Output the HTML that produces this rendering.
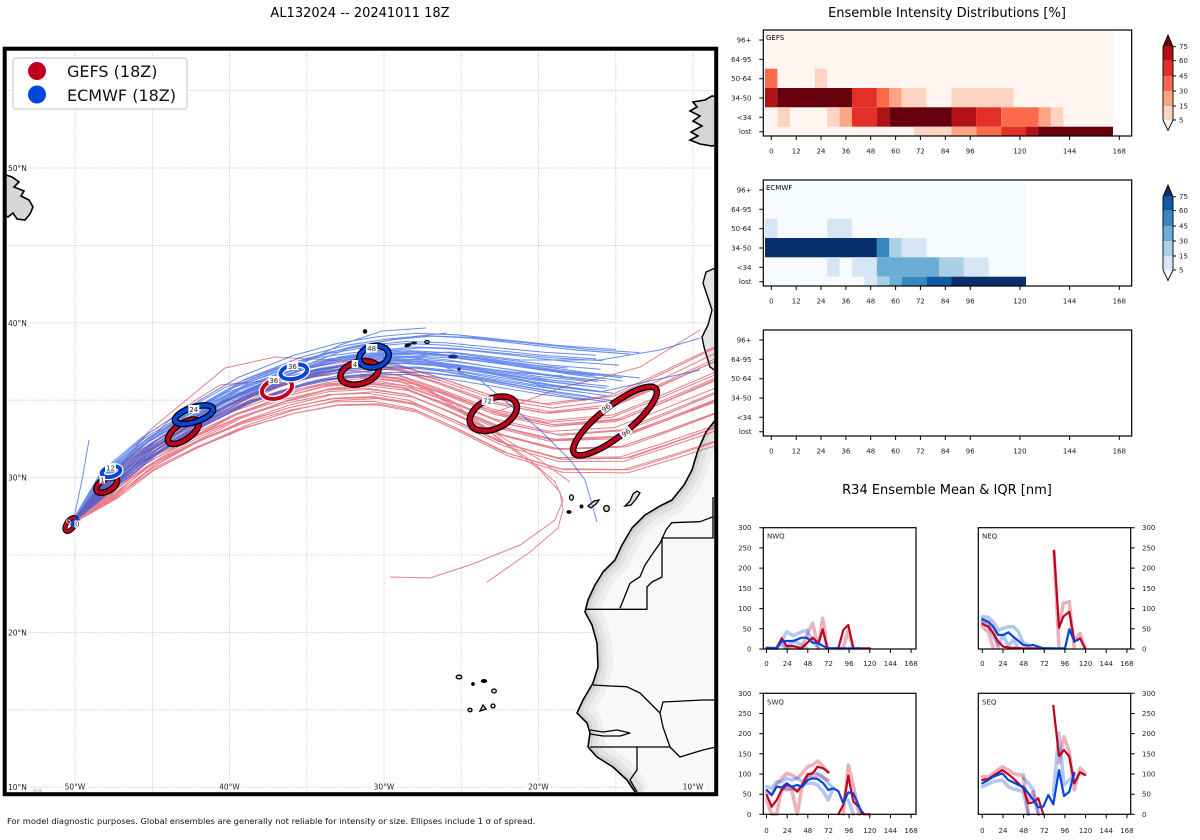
<!DOCTYPE html>
<html><head><meta charset="utf-8"><style>html,body{margin:0;padding:0;background:#fff}svg{display:block}</style></head>
<body>
<svg width="1200" height="840" viewBox="0 0 1200 840" xmlns="http://www.w3.org/2000/svg" xmlns:xlink="http://www.w3.org/1999/xlink" font-family="'DejaVu Sans','Liberation Sans',sans-serif">
<defs>
<clipPath id="mapclip"><rect x="6.7" y="50.7" width="707.5" height="741.5"/></clipPath>
<clipPath id="afclip"><polygon points="717,418 706,432 698,450 692,470 684,485 672,500 660,506 645,515 632,528 622,545 615,560 603,572 595,585 588,600 585,612 592,625 597,643 598,667 593,683 583,700 577,713 587,723 590,733 588,747 597,757 613,767 627,780 637,795 720,798 720,418"/></clipPath>
<path id="pr" d="M106,487 L140,458 183,432 230,408 277,390 320,378 360,374 400,378 440,392 493,413 550,425 615,420 660,402 717,378 790,348" fill="none" stroke="#d11a2e" stroke-width="1"/>
<path id="pb" d="M108,476 L150,442 194,415 240,390 293,371 335,361 374,356 410,354 450,357 500,364 550,371 600,376" fill="none" stroke="#1b4fe2" stroke-width="1"/>
</defs>
<rect width="1200" height="840" fill="#fff"/>

<!-- titles -->
<text x="360" y="17" font-size="13" text-anchor="middle">AL132024 -- 20241011 18Z</text>
<text x="947" y="17" font-size="13" text-anchor="middle">Ensemble Intensity Distributions [%]</text>
<text x="947" y="494" font-size="13" text-anchor="middle">R34 Ensemble Mean &amp; IQR [nm]</text>

<!-- MAP -->
<g clip-path="url(#mapclip)">
<g stroke="#c4c4c4" stroke-width="0.8" stroke-dasharray="1.2 1.2">
<line x1="75" y1="50" x2="75" y2="793"/><line x1="152.3" y1="50" x2="152.3" y2="793"/><line x1="229.5" y1="50" x2="229.5" y2="793"/><line x1="306.8" y1="50" x2="306.8" y2="793"/><line x1="384" y1="50" x2="384" y2="793"/><line x1="461.2" y1="50" x2="461.2" y2="793"/><line x1="538.5" y1="50" x2="538.5" y2="793"/><line x1="615.8" y1="50" x2="615.8" y2="793"/><line x1="693" y1="50" x2="693" y2="793"/>
<line x1="6" y1="90.6" x2="715" y2="90.6"/><line x1="6" y1="168" x2="715" y2="168"/><line x1="6" y1="245.4" x2="715" y2="245.4"/><line x1="6" y1="322.8" x2="715" y2="322.8"/><line x1="6" y1="400.2" x2="715" y2="400.2"/><line x1="6" y1="477.6" x2="715" y2="477.6"/><line x1="6" y1="555" x2="715" y2="555"/><line x1="6" y1="632.4" x2="715" y2="632.4"/><line x1="6" y1="709.8" x2="715" y2="709.8"/><line x1="6" y1="787.2" x2="715" y2="787.2"/>
</g>

<!-- Africa land -->
<polygon points="717,418 706,432 698,450 692,470 684,485 672,500 660,506 645,515 632,528 622,545 615,560 603,572 595,585 588,600 585,612 592,625 597,643 598,667 593,683 583,700 577,713 587,723 590,733 588,747 597,757 613,767 627,780 637,795 720,798 720,418" fill="#f8f8f8"/>
<g clip-path="url(#afclip)" fill="none" stroke-linejoin="round">
<polyline points="717,418 706,432 698,450 692,470 684,485 672,500 660,506 645,515 632,528 622,545 615,560 603,572 595,585 588,600 585,612 592,625 597,643 598,667 593,683 583,700 577,713 587,723 590,733 588,747 597,757 613,767 627,780 637,795" stroke="#eeeeee" stroke-width="30"/>
<polyline points="717,418 706,432 698,450 692,470 684,485 672,500 660,506 645,515 632,528 622,545 615,560 603,572 595,585 588,600 585,612 592,625 597,643 598,667 593,683 583,700 577,713 587,723 590,733 588,747 597,757 613,767 627,780 637,795" stroke="#e2e2e2" stroke-width="18"/>
<polyline points="717,418 706,432 698,450 692,470 684,485 672,500 660,506 645,515 632,528 622,545 615,560 603,572 595,585 588,600 585,612 592,625 597,643 598,667 593,683 583,700 577,713 587,723 590,733 588,747 597,757 613,767 627,780 637,795" stroke="#d2d2d2" stroke-width="8"/>
</g>
<polyline points="717,418 706,432 698,450 692,470 684,485 672,500 660,506 645,515 632,528 622,545 615,560 603,572 595,585 588,600 585,612 592,625 597,643 598,667 593,683 583,700 577,713 587,723 590,733 588,747 597,757 613,767 627,780 637,795" fill="none" stroke="#000" stroke-width="1.6" stroke-linejoin="round"/>
<g fill="none" stroke="#000" stroke-width="1.3" stroke-linejoin="round">
<polyline points="585,609.3 647,609.3 647,587 652,582 662,577 662,538 713,538 713,497"/>
<polyline points="620,608.3 623.3,600 630,583.3 640,576.7 645,565 651.7,555 660,543.3 666,530 671.7,522.7 700,521.7 713.3,516.7"/>
<polyline points="593,685 610,686 626.7,686.7 640,693 650,703 660,713 663,702 703,700 716,700"/>
<polyline points="660,713 663,727 670,747 680,757 693,753 703,750 716,747"/>
<polyline points="590,747 637,747 670,747"/>
<polyline points="590,730 603,732 617,730 630,733 620,736 603,736 590,734"/>
<polyline points="637,747 637,770 630,780 637,792"/>
</g>

<!-- Iberia -->
<polygon points="720,266 706,272 703,283 707,295 712,310 708,325 702,337 704,347 710,367 720,374" fill="#e4e4e4" stroke="#000" stroke-width="1.4"/>
<!-- UK/Ireland -->
<polygon points="720,97 712,96 705,100 693,102 697,107 690,111 700,116 693,121 702,126 691,132 698,136 690,140 700,144 712,146 720,144" fill="#d6d6d6" stroke="#000" stroke-width="1.6"/>
<!-- Newfoundland -->
<polygon points="3,174 12,177 19,182 14,187 24,191 21,196 29,200 33,207 30,214 25,220 17,219 13,213 8,217 3,214" fill="#d6d6d6" stroke="#000" stroke-width="1.6"/>

<!-- islands -->
<g fill="#ddd" stroke="#000" stroke-width="1.3">
<circle cx="365" cy="331.5" r="1.6" fill="#000"/>
<ellipse cx="408" cy="345" rx="3" ry="1.2" transform="rotate(-20 408 345)" fill="#000"/>
<ellipse cx="414" cy="343" rx="2.2" ry="1" fill="#000"/>
<ellipse cx="427" cy="342" rx="2.3" ry="1.5"/>
<ellipse cx="453" cy="356.5" rx="4" ry="1.4" fill="#000"/>
<circle cx="459" cy="369" r="1" fill="#000"/>
<ellipse cx="571.5" cy="497.5" rx="2" ry="2.6"/>
<ellipse cx="569" cy="512" rx="2" ry="1.2" fill="#000"/>
<circle cx="581.5" cy="506.5" r="1.3" fill="#000"/>
<path d="M588,506 L594,501 L599,500 L596,504 L591,508 Z"/>
<ellipse cx="606.5" cy="508.5" rx="2.8" ry="3"/>
<path d="M625,506 L630,501 L633,494 L637,491 L640,493 L636,499 L631,505 Z"/>
<ellipse cx="459" cy="677" rx="2.8" ry="1.8"/>
<circle cx="473" cy="684" r="1.2" fill="#000"/>
<ellipse cx="484" cy="681" rx="2.5" ry="1.4" fill="#000"/>
<ellipse cx="494" cy="691" rx="2.3" ry="2"/>
<ellipse cx="470" cy="710" rx="2" ry="1.7"/>
<path d="M480,711 L483,705 L486,709 Z"/>
<ellipse cx="493" cy="706" rx="2" ry="2"/>
</g>

<!-- GEFS ensemble tracks -->
<g opacity="0.55">
<path d="M70,525L101.6,482.9M70,525L102.4,483.6M70,525L103.1,484.2M70,525L103.8,484.9M70,525L104.5,485.6M70,525L105.3,486.3M70,525L106,487M70,525L106.7,487.7M70,525L107.5,488.4M70,525L108.2,489.1M70,525L108.9,489.8M70,525L109.7,490.5M70,525L110.4,491.1M70,525L111.1,491.8M70,525L111.8,492.5M70,525L112.6,493.2M70,525L113.3,493.9M70,525L114,494.6M70,525L114.8,495.3M70,525L115.5,496M70,525L116.2,496.7M70,525L117,497.4M70,525L117.7,498" fill="none" stroke="#d11a2e" stroke-width="1"/>
<use xlink:href="#pr" href="#pr" transform="translate(-4.38 -4.14) rotate(-1 106 487)"/>
<use xlink:href="#pr" href="#pr" transform="translate(-2.92 -2.76) rotate(0 106 487)"/>
<use xlink:href="#pr" href="#pr" transform="translate(-2.19 -2.07) rotate(-2.5 106 487)"/>
<use xlink:href="#pr" href="#pr" transform="translate(-1.46 -1.38) rotate(1 106 487)"/>
<use xlink:href="#pr" href="#pr" transform="translate(-0.73 -0.69) rotate(2 106 487)"/>
<use xlink:href="#pr" href="#pr" transform="rotate(-1.5 106 487)"/>
<use xlink:href="#pr" href="#pr" transform="translate(0.73 0.69) rotate(3 106 487)"/>
<use xlink:href="#pr" href="#pr" transform="translate(1.46 1.38)"/>
<use xlink:href="#pr" href="#pr" transform="translate(1.46 1.38) rotate(4 106 487)"/>
<use xlink:href="#pr" href="#pr" transform="translate(2.19 2.07) rotate(-2 106 487)"/>
<use xlink:href="#pr" href="#pr" transform="translate(2.92 2.76) rotate(1.5 106 487)"/>
<use xlink:href="#pr" href="#pr" transform="translate(3.65 3.45) rotate(-0.5 106 487)"/>
<use xlink:href="#pr" href="#pr" transform="translate(4.38 4.14) rotate(2.5 106 487)"/>
<use xlink:href="#pr" href="#pr" transform="translate(5.11 4.83) rotate(5 106 487)"/>
<use xlink:href="#pr" href="#pr" transform="translate(5.84 5.52) rotate(0.5 106 487)"/>
<use xlink:href="#pr" href="#pr" transform="translate(6.57 6.21) rotate(-3 106 487)"/>
<use xlink:href="#pr" href="#pr" transform="translate(7.3 6.9) rotate(3.5 106 487)"/>
<use xlink:href="#pr" href="#pr" transform="translate(8.03 7.59) rotate(1 106 487)"/>
<use xlink:href="#pr" href="#pr" transform="translate(8.76 8.28) rotate(-1 106 487)"/>
<use xlink:href="#pr" href="#pr" transform="translate(9.49 8.97) rotate(2 106 487)"/>
<use xlink:href="#pr" href="#pr" transform="translate(10.22 9.66) rotate(4.5 106 487)"/>
<use xlink:href="#pr" href="#pr" transform="translate(10.95 10.35)"/>
<use xlink:href="#pr" href="#pr" transform="translate(11.68 11.04) rotate(3 106 487)"/>
<use xlink:href="#pr" href="#pr" transform="translate(-3.65 -3.45) rotate(2.5 106 487)"/>
<use xlink:href="#pr" href="#pr" transform="translate(2.92 2.76) rotate(-3 106 487)"/>
<use xlink:href="#pr" href="#pr" transform="translate(5.84 5.52) rotate(4 106 487)"/>
<use xlink:href="#pr" href="#pr" transform="translate(8.76 8.28) rotate(5 106 487)"/>
<use xlink:href="#pr" href="#pr" transform="translate(-0.73 -0.69) rotate(-0.5 106 487)"/>
<g fill="none" stroke="#d11a2e" stroke-width="1">
<polyline points="70,525 100,490 150,430 225,368 275,357 330,360 380,365 440,380"/>
<polyline points="70,525 110,478 180,410 220,385 275,380 330,375"/>
<polyline points="360,374 400,378 450,400 500,440 540,470 560,492 563,510 558,528 530,552 487,582"/>
<polyline points="360,376 420,385 480,425 530,460 555,482 563,500 555,520 520,545 470,565 430,578 390,577"/>
<polyline points="360,378 430,390 490,430 540,460 570,482"/>
<polyline points="493,413 563,387 600,378 640,367 700,330"/>
</g>
</g>

<!-- ECMWF ensemble tracks -->
<g opacity="0.65">
<path d="M70,525L101.7,471.1M70,525L102.5,471.7M70,525L103.3,472.3M70,525L104,472.9M70,525L104.8,473.6M70,525L105.6,474.2M70,525L106.4,474.8M70,525L107.2,475.4M70,525L108,476M70,525L108.8,476.6M70,525L109.6,477.2M70,525L110.4,477.8M70,525L111.2,478.4M70,525L112,479.1M70,525L112.7,479.7M70,525L113.5,480.3M70,525L114.3,480.9M70,525L115.1,481.5M70,525L115.9,482.1M70,525L116.7,482.7M70,525L117.5,483.3M70,525L118.3,483.9M70,525L119.1,484.5" fill="none" stroke="#1b4fe2" stroke-width="1"/>
<use xlink:href="#pb" href="#pb" transform="translate(-6.32 -4.88) rotate(-1 108 476) translate(108 476) scale(0.95) translate(-108 -476)"/>
<use xlink:href="#pb" href="#pb" transform="translate(-5.53 -4.27) rotate(0.5 108 476)"/>
<use xlink:href="#pb" href="#pb" transform="translate(-4.74 -3.66) rotate(-2 108 476) translate(108 476) scale(1.05) translate(-108 -476)"/>
<use xlink:href="#pb" href="#pb" transform="translate(-3.95 -3.05) rotate(1 108 476)"/>
<use xlink:href="#pb" href="#pb" transform="translate(-3.16 -2.44) rotate(-0.5 108 476) translate(108 476) scale(0.93) translate(-108 -476)"/>
<use xlink:href="#pb" href="#pb" transform="translate(-2.37 -1.83) rotate(2 108 476)"/>
<use xlink:href="#pb" href="#pb" transform="translate(-1.58 -1.22) rotate(-1.5 108 476) translate(108 476) scale(1.07) translate(-108 -476)"/>
<use xlink:href="#pb" href="#pb" transform="translate(-0.79 -0.61)"/>
<use xlink:href="#pb" href="#pb" transform="rotate(1.5 108 476) translate(108 476) scale(0.96) translate(-108 -476)"/>
<use xlink:href="#pb" href="#pb" transform="translate(0.79 0.61) rotate(-2.5 108 476)"/>
<use xlink:href="#pb" href="#pb" transform="translate(1.58 1.22) rotate(0.5 108 476) translate(108 476) scale(1.04) translate(-108 -476)"/>
<use xlink:href="#pb" href="#pb" transform="translate(2.37 1.83) rotate(-1 108 476)"/>
<use xlink:href="#pb" href="#pb" transform="translate(3.16 2.44) translate(108 476) scale(0.97) translate(-108 -476)"/>
<use xlink:href="#pb" href="#pb" transform="translate(3.16 2.44) rotate(2 108 476)"/>
<use xlink:href="#pb" href="#pb" transform="translate(3.95 3.05) rotate(-2 108 476) translate(108 476) scale(1.08) translate(-108 -476)"/>
<use xlink:href="#pb" href="#pb" transform="translate(4.74 3.66) rotate(1 108 476)"/>
<use xlink:href="#pb" href="#pb" transform="translate(5.53 4.27) rotate(-0.5 108 476) translate(108 476) scale(0.94) translate(-108 -476)"/>
<use xlink:href="#pb" href="#pb" transform="translate(6.32 4.88) rotate(2.5 108 476)"/>
<use xlink:href="#pb" href="#pb" transform="translate(7.11 5.49) rotate(-1.5 108 476) translate(108 476) scale(1.03) translate(-108 -476)"/>
<use xlink:href="#pb" href="#pb" transform="translate(7.9 6.1) rotate(0.5 108 476)"/>
<use xlink:href="#pb" href="#pb" transform="translate(8.69 6.71) rotate(1.5 108 476) translate(108 476) scale(0.95) translate(-108 -476)"/>
<use xlink:href="#pb" href="#pb" transform="translate(9.48 7.32) rotate(-1 108 476)"/>
<use xlink:href="#pb" href="#pb" transform="translate(10.27 7.93) translate(108 476) scale(1.06) translate(-108 -476)"/>
<use xlink:href="#pb" href="#pb" transform="translate(11.06 8.54) rotate(1 108 476)"/>
<use xlink:href="#pb" href="#pb" transform="translate(-3.16 -2.44) rotate(2.5 108 476) translate(108 476) scale(0.98) translate(-108 -476)"/>
<use xlink:href="#pb" href="#pb" transform="rotate(-2 108 476)"/>
<use xlink:href="#pb" href="#pb" transform="translate(4.74 3.66) rotate(-1.5 108 476) translate(108 476) scale(0.92) translate(-108 -476)"/>
<use xlink:href="#pb" href="#pb" transform="translate(7.9 6.1) rotate(-2.5 108 476)"/>
<use xlink:href="#pb" href="#pb" transform="translate(-4.74 -3.66) rotate(1.5 108 476) translate(108 476) scale(1.05) translate(-108 -476)"/>
<use xlink:href="#pb" href="#pb" transform="translate(6.32 4.88)"/>
<use xlink:href="#pb" href="#pb" transform="translate(-1.58 -1.22) rotate(1 108 476) translate(108 476) scale(0.97) translate(-108 -476)"/>
<use xlink:href="#pb" href="#pb" transform="translate(9.48 7.32) rotate(2 108 476)"/>
<g fill="none" stroke="#1b4fe2" stroke-width="1">
<polyline points="74,518 82,480 89,440"/>
<polyline points="374,356 420,358 480,380 540,430 570,460 585,480 597,522"/>
<polyline points="293,368 340,345 382,331 426,328"/>
<polyline points="293,370 350,348 400,338 447,333"/>
<polyline points="380,356 450,352 520,360 600,360 660,350 700,338"/>
<polyline points="380,358 460,365 540,385 600,392 700,370"/>
</g>
</g>

<!-- ellipses -->
<g fill="none">
<ellipse cx="70.5" cy="524.5" rx="8" ry="4" transform="rotate(-55 70.5 524.5)" stroke="#000" stroke-width="5"/>
<ellipse cx="70.5" cy="524.5" rx="8" ry="4" transform="rotate(-55 70.5 524.5)" stroke="#c1001e" stroke-width="3"/>
<ellipse cx="75.5" cy="522.5" rx="4" ry="2.5" transform="rotate(-40 75.5 522.5)" stroke="#0045dc" stroke-width="2.5"/>

<ellipse cx="106.7" cy="485" rx="11.5" ry="6" transform="rotate(-30 106.7 485)" stroke="#000" stroke-width="6.5"/>
<ellipse cx="106.7" cy="485" rx="11.5" ry="6" transform="rotate(-30 106.7 485)" stroke="#c1001e" stroke-width="4"/>
<ellipse cx="111" cy="471.7" rx="9.5" ry="5" transform="rotate(-15 111 471.7)" stroke="#fff" stroke-width="6.5"/>
<ellipse cx="111" cy="471.7" rx="9.5" ry="5" transform="rotate(-15 111 471.7)" stroke="#0045dc" stroke-width="4"/>

<ellipse cx="183.3" cy="431.7" rx="18" ry="8" transform="rotate(-35 183.3 431.7)" stroke="#000" stroke-width="6.5"/>
<ellipse cx="183.3" cy="431.7" rx="18" ry="8" transform="rotate(-35 183.3 431.7)" stroke="#c1001e" stroke-width="4"/>
<ellipse cx="194" cy="414.7" rx="20" ry="7.3" transform="rotate(-18 194 414.7)" stroke="#000" stroke-width="6.5"/>
<ellipse cx="194" cy="414.7" rx="20" ry="7.3" transform="rotate(-18 194 414.7)" stroke="#0045dc" stroke-width="4"/>

<ellipse cx="277" cy="388.7" rx="15.5" ry="9.5" transform="rotate(-18 277 388.7)" stroke="#fff" stroke-width="6.5"/>
<ellipse cx="277" cy="388.7" rx="15.5" ry="9.5" transform="rotate(-18 277 388.7)" stroke="#c1001e" stroke-width="4"/>
<ellipse cx="293.8" cy="371.8" rx="13.5" ry="7" transform="rotate(-12 293.8 371.8)" stroke="#fff" stroke-width="6.5"/>
<ellipse cx="293.8" cy="371.8" rx="13.5" ry="7" transform="rotate(-12 293.8 371.8)" stroke="#0045dc" stroke-width="4"/>

<ellipse cx="359.5" cy="372.8" rx="19.5" ry="11" transform="rotate(-15 359.5 372.8)" stroke="#000" stroke-width="6.5"/>
<ellipse cx="359.5" cy="372.8" rx="19.5" ry="11" transform="rotate(-15 359.5 372.8)" stroke="#c1001e" stroke-width="4"/>
<ellipse cx="374" cy="356.7" rx="15" ry="10.5" transform="rotate(-15 374 356.7)" stroke="#000" stroke-width="6.5"/>
<ellipse cx="374" cy="356.7" rx="15" ry="10.5" transform="rotate(-15 374 356.7)" stroke="#0045dc" stroke-width="4"/>

<ellipse cx="493.3" cy="413.7" rx="25" ry="15" transform="rotate(-25 493.3 413.7)" stroke="#000" stroke-width="6.5"/>
<ellipse cx="493.3" cy="413.7" rx="25" ry="15" transform="rotate(-25 493.3 413.7)" stroke="#c1001e" stroke-width="4"/>

<ellipse cx="615" cy="421" rx="52" ry="15" transform="rotate(-38.4 615 421)" stroke="#000" stroke-width="6.5"/>
<ellipse cx="615" cy="421" rx="52" ry="15" transform="rotate(-38.4 615 421)" stroke="#c1001e" stroke-width="4"/>
</g>
<!-- ellipse labels -->
<g font-size="7" text-anchor="middle" fill="#222">
<rect x="74.5" y="520.5" width="5.5" height="7" fill="#fff"/><text x="77.3" y="526.5">0</text>
<text x="69" y="524" transform="rotate(-55 69 522)" fill="#fff">0</text>
<rect x="105" y="464" width="11" height="7.5" fill="#fff"/><text x="110.5" y="470.5">12</text>
<rect x="99.5" y="476" width="5.5" height="7.5" fill="#fff"/><text x="102.3" y="482.5">1</text>
<rect x="188.3" y="405" width="11" height="8" fill="#fff"/><text x="193.8" y="411.8">24</text>
<rect x="268.3" y="376" width="11" height="8" fill="#fff"/><text x="273.8" y="382.8">36</text>
<rect x="286.7" y="362" width="11.5" height="8" fill="#fff"/><text x="292.4" y="368.8">36</text>
<rect x="351.7" y="360" width="6.5" height="8" fill="#fff"/><text x="355" y="366.8">4</text>
<rect x="366" y="344" width="11.3" height="8.5" fill="#fff"/><text x="371.6" y="351">48</text>
<rect x="481.7" y="396.5" width="11.6" height="8.5" fill="#fff"/><text x="487.5" y="403.5">72</text>
<g transform="rotate(-38 605.8 407.5)"><rect x="600" y="403.5" width="11.6" height="8" fill="#fff"/><text x="605.8" y="410.3">96</text></g>
<g transform="rotate(-38 625.8 432.5)"><rect x="620" y="428.5" width="11.6" height="8" fill="#fff"/><text x="625.8" y="435.3">96</text></g>
</g>

<!-- axis labels -->
<g font-size="7.5" fill="#222">
<rect x="7" y="164" width="23" height="8" fill="#fff"/><text x="8" y="171">50°N</text>
<rect x="7" y="319" width="23" height="8" fill="#fff"/><text x="8" y="326">40°N</text>
<rect x="7" y="473.5" width="23" height="8" fill="#fff"/><text x="8" y="480.5">30°N</text>
<rect x="7" y="628.5" width="23" height="8" fill="#fff"/><text x="8" y="635.5">20°N</text>
<rect x="7" y="783" width="23" height="8" fill="#fff"/><text x="8" y="790">10°N</text>
<g text-anchor="middle">
<rect x="63" y="782.5" width="24" height="8" fill="#fff"/><text x="75" y="789.5">50°W</text>
<rect x="217.5" y="782.5" width="24" height="8" fill="#fff"/><text x="229.5" y="789.5">40°W</text>
<rect x="372" y="782.5" width="24" height="8" fill="#fff"/><text x="384" y="789.5">30°W</text>
<rect x="526.5" y="782.5" width="24" height="8" fill="#fff"/><text x="538.5" y="789.5">20°W</text>
<rect x="681" y="782.5" width="24" height="8" fill="#fff"/><text x="693" y="789.5">10°W</text>
</g>
</g>
<text x="33" y="791.5" font-size="3" fill="#777">08:08</text>
</g>

<!-- legend -->
<rect x="13" y="58" width="174" height="51" rx="3" fill="#fff" stroke="#ccc" stroke-width="1.2"/>
<circle cx="37" cy="71" r="9" fill="#c1001e"/>
<circle cx="37" cy="94.5" r="9" fill="#0045dc"/>
<text x="67" y="77" font-size="16" fill="#111">GEFS (18Z)</text>
<text x="67" y="101" font-size="16" fill="#111">ECMWF (18Z)</text>

<!-- map frame -->
<rect x="4.7" y="48.7" width="711.5" height="745.5" fill="none" stroke="#000" stroke-width="4"/>

<text x="7" y="824" font-size="8.35" fill="#111">For model diagnostic purposes. Global ensembles are generally not reliable for intensity or size. Ellipses include 1 σ of spread.</text>

<!-- ========== GEFS heatmap ========== -->
<rect x="765" y="30" width="348" height="106" fill="#fff5f0"/>
<rect x="765" y="68.7" width="12.4" height="19.3" fill="#fb6b4b"/>
<rect x="814.7" y="68.7" width="12.5" height="19.3" fill="#fdd4c2"/>
<rect x="765" y="88" width="12.4" height="19.3" fill="#b11218"/>
<rect x="777.4" y="88" width="74.6" height="19.3" fill="#67000d"/>
<rect x="852" y="88" width="24.9" height="19.3" fill="#e32f27"/>
<rect x="876.9" y="88" width="12.4" height="19.3" fill="#fb6b4b"/>
<rect x="889.3" y="88" width="12.4" height="19.3" fill="#fca486"/>
<rect x="901.7" y="88" width="24.9" height="19.3" fill="#fdd4c2"/>
<rect x="951.5" y="88" width="62.1" height="19.3" fill="#fdd4c2"/>
<rect x="777.4" y="107.3" width="12.5" height="19.4" fill="#fdd4c2"/>
<rect x="827.2" y="107.3" width="12.4" height="19.4" fill="#fdd4c2"/>
<rect x="839.6" y="107.3" width="12.4" height="19.4" fill="#fca486"/>
<rect x="852" y="107.3" width="24.9" height="19.4" fill="#e32f27"/>
<rect x="876.9" y="107.3" width="12.4" height="19.4" fill="#b11218"/>
<rect x="889.3" y="107.3" width="62.2" height="19.4" fill="#67000d"/>
<rect x="951.5" y="107.3" width="24.8" height="19.4" fill="#b11218"/>
<rect x="976.3" y="107.3" width="24.9" height="19.4" fill="#e32f27"/>
<rect x="1001.2" y="107.3" width="37.3" height="19.4" fill="#fb6b4b"/>
<rect x="1038.5" y="107.3" width="12.4" height="19.4" fill="#fca486"/>
<rect x="1050.9" y="107.3" width="12.4" height="19.4" fill="#fdd4c2"/>
<rect x="914.2" y="126.7" width="37.3" height="9.3" fill="#fdd4c2"/>
<rect x="951.5" y="126.7" width="24.8" height="9.3" fill="#fca486"/>
<rect x="976.3" y="126.7" width="24.9" height="9.3" fill="#fb6b4b"/>
<rect x="1001.2" y="126.7" width="24.8" height="9.3" fill="#e32f27"/>
<rect x="1026" y="126.7" width="12.5" height="9.3" fill="#b11218"/>
<rect x="1038.5" y="126.7" width="74.5" height="9.3" fill="#67000d"/>
<rect x="763.3" y="30" width="368.4" height="106" fill="none" stroke="#000" stroke-width="1.2"/>
<text x="766" y="40" font-size="7">GEFS</text>

<!-- ========== ECMWF heatmap ========== -->
<rect x="765" y="180" width="261" height="106" fill="#f7fbff"/>
<rect x="765" y="218.7" width="12.4" height="19.3" fill="#d6e6f4"/>
<rect x="827.2" y="218.7" width="24.8" height="19.3" fill="#d6e6f4"/>
<rect x="765" y="238" width="111.9" height="19.3" fill="#08306b"/>
<rect x="876.9" y="238" width="12.4" height="19.3" fill="#3787c0"/>
<rect x="889.3" y="238" width="12.4" height="19.3" fill="#abd0e6"/>
<rect x="901.7" y="238" width="24.9" height="19.3" fill="#d6e6f4"/>
<rect x="827.2" y="257.3" width="12.4" height="19.4" fill="#d6e6f4"/>
<rect x="852" y="257.3" width="24.9" height="19.4" fill="#d6e6f4"/>
<rect x="876.9" y="257.3" width="62.1" height="19.4" fill="#6aaed6"/>
<rect x="939" y="257.3" width="24.9" height="19.4" fill="#abd0e6"/>
<rect x="963.9" y="257.3" width="24.8" height="19.4" fill="#d6e6f4"/>
<rect x="864.4" y="276.7" width="12.5" height="9.3" fill="#d6e6f4"/>
<rect x="876.9" y="276.7" width="12.4" height="9.3" fill="#abd0e6"/>
<rect x="889.3" y="276.7" width="12.4" height="9.3" fill="#6aaed6"/>
<rect x="901.7" y="276.7" width="24.9" height="9.3" fill="#3787c0"/>
<rect x="926.6" y="276.7" width="24.9" height="9.3" fill="#105ba4"/>
<rect x="951.5" y="276.7" width="74.5" height="9.3" fill="#08306b"/>
<rect x="763.3" y="180" width="368.4" height="106" fill="none" stroke="#000" stroke-width="1.2"/>
<text x="766" y="190" font-size="7">ECMWF</text>

<!-- third empty -->
<rect x="763.3" y="330" width="368.4" height="106" fill="none" stroke="#000" stroke-width="1.2"/>

<!-- heatmap ticks -->
<g stroke="#000" stroke-width="1">
<path d="M771.3,136v4M796.2,136v4M821,136v4M845.9,136v4M870.7,136v4M895.6,136v4M920.4,136v4M945.3,136v4M970.2,136v4M1019.9,136v4M1069.6,136v4M1119.3,136v4"/>
<path d="M771.3,286v4M796.2,286v4M821,286v4M845.9,286v4M870.7,286v4M895.6,286v4M920.4,286v4M945.3,286v4M970.2,286v4M1019.9,286v4M1069.6,286v4M1119.3,286v4"/>
<path d="M771.3,436v4M796.2,436v4M821,436v4M845.9,436v4M870.7,436v4M895.6,436v4M920.4,436v4M945.3,436v4M970.2,436v4M1019.9,436v4M1069.6,436v4M1119.3,436v4"/>
<path d="M759.3,40h4M759.3,59.3h4M759.3,78.7h4M759.3,98h4M759.3,117.3h4M759.3,131.7h4"/>
<path d="M759.3,190h4M759.3,209.3h4M759.3,228.7h4M759.3,248h4M759.3,267.3h4M759.3,281.7h4"/>
<path d="M759.3,340h4M759.3,359.3h4M759.3,378.7h4M759.3,398h4M759.3,417.3h4M759.3,431.7h4"/>
</g>
<g font-size="7" text-anchor="middle" fill="#222">
<text x="771.3" y="153.5">0</text><text x="796.2" y="153.5">12</text><text x="821" y="153.5">24</text><text x="845.9" y="153.5">36</text><text x="870.7" y="153.5">48</text><text x="895.6" y="153.5">60</text><text x="920.4" y="153.5">72</text><text x="945.3" y="153.5">84</text><text x="970.2" y="153.5">96</text><text x="1019.9" y="153.5">120</text><text x="1069.6" y="153.5">144</text><text x="1119.3" y="153.5">168</text>
<text x="771.3" y="303.5">0</text><text x="796.2" y="303.5">12</text><text x="821" y="303.5">24</text><text x="845.9" y="303.5">36</text><text x="870.7" y="303.5">48</text><text x="895.6" y="303.5">60</text><text x="920.4" y="303.5">72</text><text x="945.3" y="303.5">84</text><text x="970.2" y="303.5">96</text><text x="1019.9" y="303.5">120</text><text x="1069.6" y="303.5">144</text><text x="1119.3" y="303.5">168</text>
<text x="771.3" y="453.5">0</text><text x="796.2" y="453.5">12</text><text x="821" y="453.5">24</text><text x="845.9" y="453.5">36</text><text x="870.7" y="453.5">48</text><text x="895.6" y="453.5">60</text><text x="920.4" y="453.5">72</text><text x="945.3" y="453.5">84</text><text x="970.2" y="453.5">96</text><text x="1019.9" y="453.5">120</text><text x="1069.6" y="453.5">144</text><text x="1119.3" y="453.5">168</text>
</g>
<g font-size="7" text-anchor="end" fill="#222">
<text x="751.5" y="42.5">96+</text><text x="751.5" y="61.8">64-95</text><text x="751.5" y="81.2">50-64</text><text x="751.5" y="100.5">34-50</text><text x="751.5" y="119.8">&lt;34</text><text x="751.5" y="134.2">lost</text>
<text x="751.5" y="192.5">96+</text><text x="751.5" y="211.8">64-95</text><text x="751.5" y="231.2">50-64</text><text x="751.5" y="250.5">34-50</text><text x="751.5" y="269.8">&lt;34</text><text x="751.5" y="284.2">lost</text>
<text x="751.5" y="342.5">96+</text><text x="751.5" y="361.8">64-95</text><text x="751.5" y="381.2">50-64</text><text x="751.5" y="400.5">34-50</text><text x="751.5" y="419.8">&lt;34</text><text x="751.5" y="434.2">lost</text>
</g>

<!-- colorbars -->
<rect x="1163" y="46.7" width="10" height="14" fill="#b11218"/>
<rect x="1163" y="60.7" width="10" height="15.3" fill="#e32f27"/>
<rect x="1163" y="76" width="10" height="15" fill="#fb6b4b"/>
<rect x="1163" y="91" width="10" height="15" fill="#fca486"/>
<rect x="1163" y="106" width="10" height="14" fill="#fdd4c2"/>
<polygon points="1163,46.7 1168,35 1173,46.7" fill="#67000d"/>
<polygon points="1163,120 1168,130.5 1173,120" fill="#fff5f0"/>
<path d="M1163,46.7 L1168,35 L1173,46.7 L1173,120 L1168,130.5 L1163,120 Z" fill="none" stroke="#000" stroke-width="0.9"/>
<rect x="1163" y="196.7" width="10" height="14" fill="#105ba4"/>
<rect x="1163" y="210.7" width="10" height="15.3" fill="#3787c0"/>
<rect x="1163" y="226" width="10" height="15" fill="#6aaed6"/>
<rect x="1163" y="241" width="10" height="15" fill="#abd0e6"/>
<rect x="1163" y="256" width="10" height="14" fill="#d6e6f4"/>
<polygon points="1163,196.7 1168,185 1173,196.7" fill="#08306b"/>
<polygon points="1163,270 1168,280.5 1173,270" fill="#f7fbff"/>
<path d="M1163,196.7 L1168,185 L1173,196.7 L1173,270 L1168,280.5 L1163,270 Z" fill="none" stroke="#000" stroke-width="0.9"/>
<g stroke="#000" stroke-width="0.9">
<path d="M1173,46.7h3M1173,60.7h3M1173,76h3M1173,91h3M1173,106h3M1173,120h3"/>
<path d="M1173,196.7h3M1173,210.7h3M1173,226h3M1173,241h3M1173,256h3M1173,270h3"/>
</g>
<g font-size="7" fill="#222">
<text x="1179" y="49.2">75</text><text x="1179" y="63.2">60</text><text x="1179" y="78.5">45</text><text x="1179" y="93.5">30</text><text x="1179" y="108.5">15</text><text x="1179" y="122.5">5</text>
<text x="1179" y="199.2">75</text><text x="1179" y="213.2">60</text><text x="1179" y="228.5">45</text><text x="1179" y="243.5">30</text><text x="1179" y="258.5">15</text><text x="1179" y="272.5">5</text>
</g>

<!-- ========== R34 panels ========== -->
<g fill="none" stroke-linejoin="round" stroke-linecap="round">
<!-- NWQ -->
<g stroke="#c1001e" stroke-width="3.5" opacity="0.3">
<polyline points="766.7,648.3 776.7,648.3 781.7,640 786.7,648 793.3,648 801.7,648.3 806.7,635 812.7,623.3 818.3,648 822.7,618.3 827.3,648.3"/>
<polyline points="838.3,648.3 843.3,648 848.3,630 853.3,648.3"/>
</g>
<g stroke="#0045dc" stroke-width="3.5" opacity="0.3">
<polyline points="776.7,648 781.7,641 786.7,631.7 793.3,635.7 801.7,631.7 806.7,630 812.7,641.7 818.3,648"/>
<polyline points="781.7,645 786.7,648 793.3,641 801.7,645 806.7,648"/>
</g>
<polyline stroke="#c1001e" stroke-width="2.2" points="766.7,648.3 776.7,648.3 781.7,638.3 786.7,646 793.3,646 801.7,648.3 806.7,643.3 812.7,637.7 818.3,643.3 822.7,629.3 827.3,648.3 838.3,648.3 843.3,630 848.3,625 853.3,648.3 870,648.3"/>
<polyline stroke="#0045dc" stroke-width="2.2" points="766.7,647.7 776.7,648.3 781.7,641 786.7,641 793.3,641 801.7,637.7 806.7,637.7 812.7,642.7 818.3,643.3 827.3,648.3 860,648.3"/>

<!-- NEQ -->
<g stroke="#c1001e" stroke-width="3.5" opacity="0.3">
<polyline points="982.3,621.7 988.3,622 993.3,630 998.3,648"/>
<polyline points="982.3,627 988.3,632 993.3,648"/>
<polyline points="1054,551 1059,648"/>
<polyline points="1059,627 1063.3,603.3 1069.3,601.7 1074.3,648"/>
<polyline points="1074.3,640 1080,633.3 1085,648"/>
</g>
<g stroke="#0045dc" stroke-width="3.5" opacity="0.3">
<polyline points="982.3,616.7 988.3,617.3 993.3,622 998.3,630 1003.3,628.3 1008.3,626.7 1013.3,626.7 1018.3,631.7 1023.3,643 1028.3,645"/>
<polyline points="982.3,621 988.3,626 993.3,636 998.3,645 1003.3,635 1008.3,646 1013.3,640 1018.3,648"/>
</g>
<polyline stroke="#c1001e" stroke-width="2.2" points="982.3,624 988.3,626.7 993.3,633.3 998.3,641.7 1003.3,646.7 1010,647.7 1023.3,648.3 1053.3,648.3"/>
<polyline stroke="#c1001e" stroke-width="2.2" points="1054,551 1059,627.7 1063.3,616.7 1069.3,611.7 1074.3,641.7 1080,638.3 1085,648.3"/>
<polyline stroke="#0045dc" stroke-width="2.2" points="982.3,619 988.3,621.7 993.3,626.7 998.3,635 1003.3,635 1008.3,632.3 1013.3,636.7 1023.3,645 1028.3,645.7 1033.3,645 1043.3,648.3 1065,648.3 1069.3,629.3 1074.3,641 1078,640"/>

<!-- SWQ -->
<g stroke="#c1001e" stroke-width="3.5" opacity="0.3">
<polyline points="766.7,791.7 771.7,795 776.7,785 781.7,778.3 786.7,773.3 791.7,775 797.3,778.3 802.3,773.3 807.7,766.7 812.7,765 817.7,761 823.3,766.7 828.3,772.3"/>
<polyline points="766.7,800 771.7,814.3 776.7,814.3 781.7,788.3 786.7,788.3 791.7,790 797.3,814.3 802.3,785 807.7,774.3 812.7,778 817.7,775 823.3,778 828.3,780"/>
<polyline points="843.3,814.3 848.3,765 853.3,785 859,814.3"/>
</g>
<g stroke="#0045dc" stroke-width="3.5" opacity="0.3">
<polyline points="766.7,786.7 771.7,788.3 776.7,781.7 781.7,781.7 786.7,778.3 791.7,780 797.3,778.3 802.3,781.7 807.7,776.7 812.7,773.3 817.7,773.3 823.3,776.7 828.3,783.3 833.3,788.3"/>
<polyline points="781.7,789 786.7,790 791.7,788.3 797.3,790 802.3,785 807.7,783.3 812.7,783.3 817.7,785 823.3,791.7 828.3,800 833.3,788.3"/>
<polyline points="848.3,800 853.3,814.3"/>
</g>
<polyline stroke="#c1001e" stroke-width="2.2" points="766.7,795 771.7,806.7 776.7,800 781.7,790 786.7,785 791.7,786.7 797.3,791.7 802.3,785 807.7,774.3 812.7,773.3 817.7,766.7 823.3,768.3 828.3,772.3"/>
<polyline stroke="#c1001e" stroke-width="2.2" points="838.3,814.3 843.3,805 848.3,775.7 853.3,801.7 858,806 864,814.3 870,814.3"/>
<polyline stroke="#0045dc" stroke-width="2.2" points="766.7,790 771.7,795 776.7,786.7 781.7,787.3 786.7,783.3 791.7,786.7 797.3,785 802.3,786.7 807.7,780 812.7,778.3 817.7,779 823.3,783.3 828.3,790 833.3,788.3 838.3,791 843.3,803.3 848.3,792.3 853.3,793.3 859.3,806.7 862,814"/>

<!-- SEQ -->
<g stroke="#c1001e" stroke-width="3.5" opacity="0.3">
<polyline points="982.3,776.7 988.3,776.7 993.3,773.3 1002.3,766.7 1008.3,770 1013.3,773.3 1018.3,775 1023.3,775 1028.3,814.3"/>
<polyline points="1028.3,800 1033.3,791.7 1038.3,814.3"/>
<polyline points="1059,763 1064,736.7 1069.3,751.7 1074.3,790 1080,768 1085,773"/>
</g>
<g stroke="#0045dc" stroke-width="3.5" opacity="0.3">
<polyline points="982.3,786.7 988.3,784 993.3,781.7 1002.3,780 1008.3,786.7 1013.3,789 1018.3,790 1023.3,792 1028.3,814.3"/>
<polyline points="1023.3,778 1028.3,783 1033.3,790 1038.3,814.3"/>
<polyline points="1053.3,795 1059,733.3 1064,785 1069.3,780 1074.3,775"/>
</g>
<polyline stroke="#c1001e" stroke-width="2.2" points="982.3,780 988.3,779 993.3,775.7 1002.3,770 1008.3,774.3 1013.3,778.3 1018.3,783.3 1023.3,788.3 1028.3,803.3 1033.3,802.3 1038.3,798.3 1043.3,814.3"/>
<polyline stroke="#c1001e" stroke-width="2.2" points="1053.3,705.7 1059,756 1064,750 1069.3,756.7 1074.3,783.3 1080,772.3 1085,775"/>
<polyline stroke="#0045dc" stroke-width="2.2" points="982.3,783.3 988.3,780 993.3,776.7 1002.3,773.3 1008.3,780 1013.3,782.3 1018.3,785 1023.3,786.7 1028.3,793.3 1033.3,800 1038.3,807.3 1043.3,806.7 1048.3,795 1053.3,804.3 1059,770 1064,796 1069.3,791.7 1074.3,772.7"/>
</g>

<!-- R34 frames -->
<g fill="none" stroke="#000" stroke-width="1.2">
<rect x="763.3" y="527.7" width="152.7" height="121.3"/>
<rect x="978.3" y="527.7" width="152.4" height="121.3"/>
<rect x="763.3" y="693.3" width="152.7" height="121"/>
<rect x="978.3" y="693.3" width="152.4" height="121"/>
</g>
<g stroke="#000" stroke-width="1">
<path d="M766.5,649v4M787.2,649v4M807.8,649v4M828.5,649v4M849.1,649v4M869.8,649v4M890.4,649v4M911.1,649v4"/>
<path d="M982.3,649v4M1003,649v4M1023.6,649v4M1044.3,649v4M1064.9,649v4M1085.6,649v4M1106.2,649v4M1126.9,649v4"/>
<path d="M766.5,814.3v4M787.2,814.3v4M807.8,814.3v4M828.5,814.3v4M849.1,814.3v4M869.8,814.3v4M890.4,814.3v4M911.1,814.3v4"/>
<path d="M982.3,814.3v4M1003,814.3v4M1023.6,814.3v4M1044.3,814.3v4M1064.9,814.3v4M1085.6,814.3v4M1106.2,814.3v4M1126.9,814.3v4"/>
<path d="M759.3,527.7h4M759.3,547.9h4M759.3,568.1h4M759.3,588.4h4M759.3,608.6h4M759.3,628.8h4M759.3,649h4"/>
<path d="M759.3,693.3h4M759.3,713.5h4M759.3,733.6h4M759.3,753.8h4M759.3,774h4M759.3,794.2h4M759.3,814.3h4"/>
<path d="M1130.7,527.7h4M1130.7,547.9h4M1130.7,568.1h4M1130.7,588.4h4M1130.7,608.6h4M1130.7,628.8h4M1130.7,649h4"/>
<path d="M1130.7,693.3h4M1130.7,713.5h4M1130.7,733.6h4M1130.7,753.8h4M1130.7,774h4M1130.7,794.2h4M1130.7,814.3h4"/>
</g>
<g font-size="7" fill="#222">
<text x="767" y="538.5">NWQ</text>
<text x="982" y="538.5">NEQ</text>
<text x="767" y="704.5">SWQ</text>
<text x="982" y="704.5">SEQ</text>
</g>
<g font-size="7" text-anchor="middle" fill="#222">
<text x="766.5" y="666">0</text><text x="787.2" y="666">24</text><text x="807.8" y="666">48</text><text x="828.5" y="666">72</text><text x="849.1" y="666">96</text><text x="869.8" y="666">120</text><text x="890.4" y="666">144</text><text x="911.1" y="666">168</text>
<text x="982.3" y="666">0</text><text x="1003" y="666">24</text><text x="1023.6" y="666">48</text><text x="1044.3" y="666">72</text><text x="1064.9" y="666">96</text><text x="1085.6" y="666">120</text><text x="1106.2" y="666">144</text><text x="1126.9" y="666">168</text>
<text x="766.5" y="833">0</text><text x="787.2" y="833">24</text><text x="807.8" y="833">48</text><text x="828.5" y="833">72</text><text x="849.1" y="833">96</text><text x="869.8" y="833">120</text><text x="890.4" y="833">144</text><text x="911.1" y="833">168</text>
<text x="982.3" y="833">0</text><text x="1003" y="833">24</text><text x="1023.6" y="833">48</text><text x="1044.3" y="833">72</text><text x="1064.9" y="833">96</text><text x="1085.6" y="833">120</text><text x="1106.2" y="833">144</text><text x="1126.9" y="833">168</text>
</g>
<g font-size="7" text-anchor="end" fill="#222">
<text x="751.5" y="530.2">300</text><text x="751.5" y="550.4">250</text><text x="751.5" y="570.6">200</text><text x="751.5" y="590.9">150</text><text x="751.5" y="611.1">100</text><text x="751.5" y="631.3">50</text><text x="751.5" y="651.5">0</text>
<text x="751.5" y="695.8">300</text><text x="751.5" y="716">250</text><text x="751.5" y="736.1">200</text><text x="751.5" y="756.3">150</text><text x="751.5" y="776.5">100</text><text x="751.5" y="796.7">50</text><text x="751.5" y="816.8">0</text>
</g>
<g font-size="7" fill="#222">
<text x="1142" y="530.2">300</text><text x="1142" y="550.4">250</text><text x="1142" y="570.6">200</text><text x="1142" y="590.9">150</text><text x="1142" y="611.1">100</text><text x="1142" y="631.3">50</text><text x="1142" y="651.5">0</text>
<text x="1142" y="695.8">300</text><text x="1142" y="716">250</text><text x="1142" y="736.1">200</text><text x="1142" y="756.3">150</text><text x="1142" y="776.5">100</text><text x="1142" y="796.7">50</text><text x="1142" y="816.8">0</text>
</g>
</svg>
</body></html>
